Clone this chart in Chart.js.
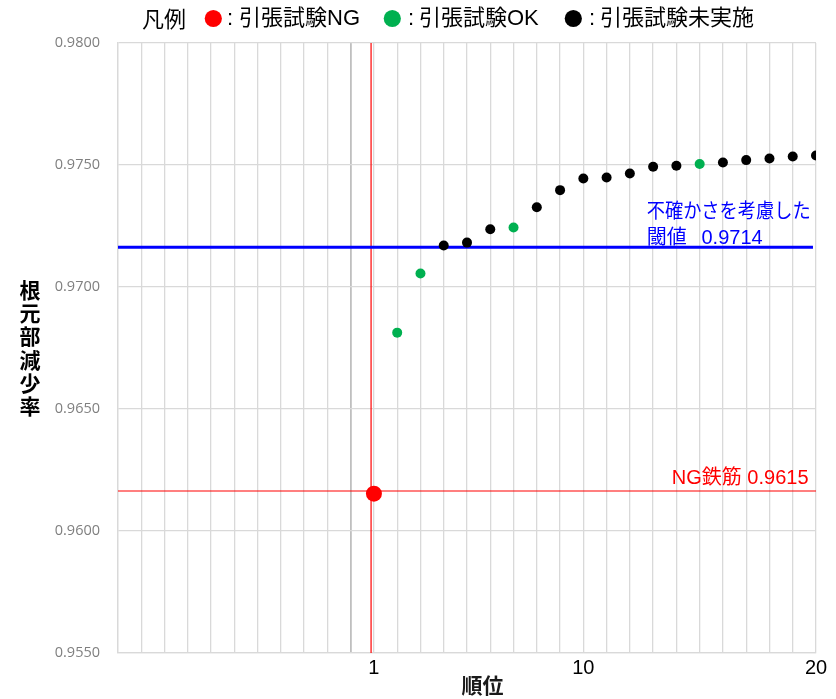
<!DOCTYPE html>
<html>
<head>
<meta charset="utf-8">
<script src="https://cdn.jsdelivr.net/npm/chart.js@4/dist/chart.umd.min.js"></script>
<style>
  html, body { margin: 0; padding: 0; background: #ffffff; }
  #wrap { width: 836px; height: 699px; position: relative; }
</style>
</head>
<body>
<div id="wrap"><canvas id="c" width="836" height="699"></canvas></div>
<script>
// ---- data ----
const ranks = [1, 2, 3, 4, 5, 6, 7, 8, 9, 10, 11, 12, 13, 14, 15, 16, 17, 18, 19, 20];
const values = [0.96153, 0.96813, 0.97055, 0.97170, 0.97182, 0.97237, 0.97244, 0.97327, 0.97397, 0.97445,
                0.97449, 0.97465, 0.97493, 0.97497, 0.97504, 0.97510, 0.97520, 0.97527, 0.97535, 0.97539];
const status = ['NG', 'OK', 'OK', 'NA', 'NA', 'NA', 'OK', 'NA', 'NA', 'NA',
                'NA', 'NA', 'NA', 'NA', 'OK', 'NA', 'NA', 'NA', 'NA', 'NA'];
const xTickLabels = [1, 10, 20];
const legendTitle = '凡例';
const seriesNames = { NG: '引張試験NG', OK: '引張試験OK', NA: '引張試験未実施' };
const thresholdValue = 0.97163;
const thresholdText = ['不確かさを考慮した', '閾値', '0.9714'];
const ngLineValue = 0.96164;
const ngRankLine = 0.877;
const ngText = 'NG鉄筋 0.9615';
const xTitle = '順位';
const yTitle = '根元部減少率';
const xMin = -10, xMax = 20, yMin = 0.955, yMax = 0.98;

function pts(code) {
  return ranks.map((r, i) => ({ x: r, y: values[i], s: status[i] })).filter(p => p.s === code);
}

const colors = { NG: '#ff0000', OK: '#00b050', NA: '#000000' };

const textPlugin = {
  id: 'texts',
  afterDraw(chart) {
    const ctx = chart.ctx;
    ctx.save();
    ctx.textBaseline = 'middle';
    ctx.textAlign = 'left';
    // legend
    const ly = 18.5;
    ctx.fillStyle = '#000';
    ctx.font = '22px "Noto Sans CJK JP"';
    ctx.fillText(legendTitle, 142, ly);
    const items = [
      { c: colors.NG, cx: 213.3, colon: 227, tx: 239, t: seriesNames.NG },
      { c: colors.OK, cx: 392.3, colon: 408, tx: 419, t: seriesNames.OK },
      { c: colors.NA, cx: 573.3, colon: 589, tx: 600, t: seriesNames.NA }
    ];
    items.forEach(it => {
      ctx.beginPath();
      ctx.fillStyle = it.c;
      ctx.ellipse(it.cx, ly, 8.6, 8.6, 0, 0, Math.PI * 2);
      ctx.fill();
      ctx.fillStyle = '#000';
      ctx.font = '22px "Liberation Sans", "Noto Sans CJK JP"';
      ctx.fillText(':', it.colon, ly);
      ctx.fillText(it.t, it.tx, ly);
    });
    // y title (stacked)
    ctx.font = 'bold 21px "Noto Sans CJK JP"';
    ctx.textAlign = 'center';
    ctx.fillStyle = '#000';
    [...yTitle].forEach((ch, i) => ctx.fillText(ch, 30, 290 + i * 23.2));
    // x title
    ctx.fillStyle = '#1a1a1a';
    ctx.font = 'bold 21px "Noto Sans CJK JP"';
    ctx.fillText(xTitle, 482.5, 685);
    // threshold annotation
    ctx.textAlign = 'left';
    ctx.fillStyle = '#0000ff';
    ctx.font = '20px "Liberation Sans", "Noto Sans CJK JP"';
    ctx.fillText(thresholdText[0], 646.7, 212, 164);
    ctx.fillText(thresholdText[1], 646.7, 238);
    ctx.fillText(thresholdText[2], 701.5, 238);
    // NG annotation
    ctx.textAlign = 'right';
    ctx.fillStyle = '#ff0000';
    ctx.fillText(ngText, 808.5, 478);
    ctx.restore();
  }
};

const cfg = {
  type: 'scatter',
  data: {
    datasets: [
      { label: 'NG', data: pts('NG'), backgroundColor: colors.NG, borderColor: colors.NG, pointRadius: 8, pointBorderWidth: 0, order: 1 },
      { label: 'OK', data: pts('OK'), backgroundColor: colors.OK, borderColor: colors.OK, pointRadius: 5, pointBorderWidth: 0, order: 2 },
      { label: 'NA', data: pts('NA'), backgroundColor: colors.NA, borderColor: colors.NA, pointRadius: 5, pointBorderWidth: 0, order: 3 },
      { label: 'threshold', data: [{ x: xMin, y: thresholdValue }, { x: 19.87, y: thresholdValue }], showLine: true,
        borderColor: '#0000ff', borderWidth: 3, pointRadius: 0, order: 4 },
      { label: 'ngH', data: [{ x: xMin, y: ngLineValue }, { x: xMax, y: ngLineValue }], showLine: true,
        borderColor: '#ff0000', borderWidth: 1.2, pointRadius: 0, order: 5 },
      { label: 'ngV', data: [{ x: ngRankLine, y: yMin }, { x: ngRankLine, y: yMax }], showLine: true,
        borderColor: '#ff0000', borderWidth: 1.2, pointRadius: 0, order: 6 }
    ]
  },
  options: {
    responsive: false,
    animation: false,
    layout: { padding: { top: 43, right: 20, left: 0, bottom: 0 } },
    plugins: { legend: { display: false }, tooltip: { enabled: false } },
    scales: {
      x: {
        type: 'linear', min: xMin, max: xMax,
        afterFit(s) { s.height = 46; },
        border: { color: '#d9d9d9', width: 1.3 },
        grid: {
          drawTicks: false,
          color: c => (c.tick && c.tick.value === 0) ? '#bfbfbf' : '#d9d9d9',
          lineWidth: c => (c.tick && c.tick.value === 0) ? 1.8 : 1.3
        },
        ticks: {
          stepSize: 1, autoSkip: false, maxRotation: 0, padding: 3,
          color: '#000',
          font: { family: '"Liberation Sans", Arial', size: 20 },
          callback: v => xTickLabels.includes(v) ? String(v) : ''
        }
      },
      y: {
        type: 'linear', min: yMin, max: yMax,
        afterFit(s) { s.width = 118; },
        border: { color: '#d9d9d9', width: 1.3 },
        grid: { drawTicks: false, color: '#d9d9d9', lineWidth: 1.3 },
        ticks: {
          stepSize: 0.005, padding: 18,
          color: '#7f7f7f',
          font: { family: '"Open Sans"', size: 14.5 },
          callback: v => Number(v).toFixed(4)
        }
      }
    }
  },
  plugins: [textPlugin]
};

new Chart(document.getElementById('c'), cfg);
</script>
</body>
</html>
